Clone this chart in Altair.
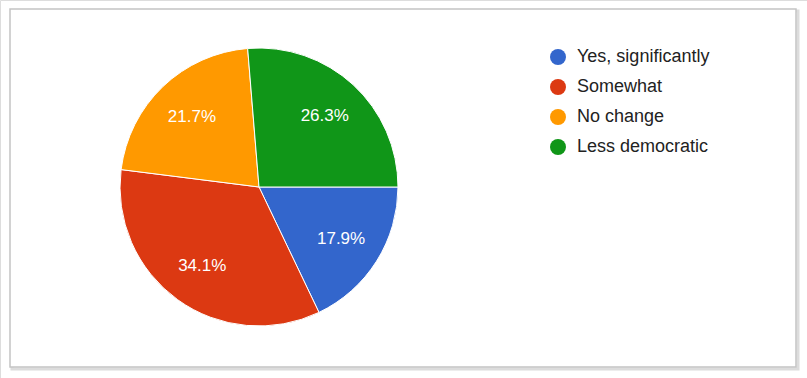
import altair as alt
import pandas as pd

categories = ["Yes, significantly", "Somewhat", "No change", "Less democratic"]
shares = [17.9, 34.1, 21.7, 26.3]
labels = ["17.9%", "34.1%", "21.7%", "26.3%"]
colors = ["#3366cc", "#dc3912", "#ff9900", "#109618"]

df = pd.DataFrame({
    "category": categories,
    "share": shares,
    "label": labels,
    "idx": list(range(len(categories))),
})

PI = 3.141592653589793
FONT = "Liberation Sans"

frame_df = pd.DataFrame({"k": [0]})

shadow = alt.Chart(frame_df).mark_rect(
    fill="white", stroke="#dcdcdc", strokeWidth=3
).encode(
    x=alt.value(12), x2=alt.value(798), y=alt.value(11), y2=alt.value(369)
)

frame = alt.Chart(frame_df).mark_rect(
    fill="white", stroke="#c4c4c4", strokeWidth=1.5
).encode(
    x=alt.value(10), x2=alt.value(796), y=alt.value(9), y2=alt.value(367)
)

theta_enc = alt.Theta("share:Q", stack=True,
                      scale=alt.Scale(range=[PI / 2, PI / 2 + 2 * PI]))

pie = alt.Chart(df).mark_arc(
    outerRadius=139, stroke="white", strokeWidth=1
).encode(
    theta=theta_enc,
    order=alt.Order("idx:Q"),
    x=alt.value(259),
    y=alt.value(187),
    color=alt.Color(
        "category:N",
        sort=categories,
        scale=alt.Scale(domain=categories, range=colors),
        legend=alt.Legend(
            title=None,
            orient="none",
            legendX=549,
            legendY=48,
            symbolType="circle",
            symbolSize=255,
            symbolStrokeWidth=0,
            labelFontSize=18,
            labelFont=FONT,
            labelColor="#222222",
            labelOffset=10,
            rowPadding=12,
            padding=0,
            labelLimit=300,
        ),
    ),
)

text = alt.Chart(df).mark_text(
    radius=97, fontSize=17, font=FONT, color="white", baseline="middle", align="center"
).encode(
    theta=theta_enc,
    order=alt.Order("idx:Q"),
    x=alt.value(259),
    y=alt.value(187),
    text="label:N",
)

chart = alt.layer(shadow, frame, pie, text).properties(
    width=807,
    height=378,
    autosize=alt.AutoSizeParams(type="none"),
    padding=0,
).configure_view(stroke=None).configure(background="white")

chart.save("out.html", embed_options={"renderer": "svg", "actions": False})
